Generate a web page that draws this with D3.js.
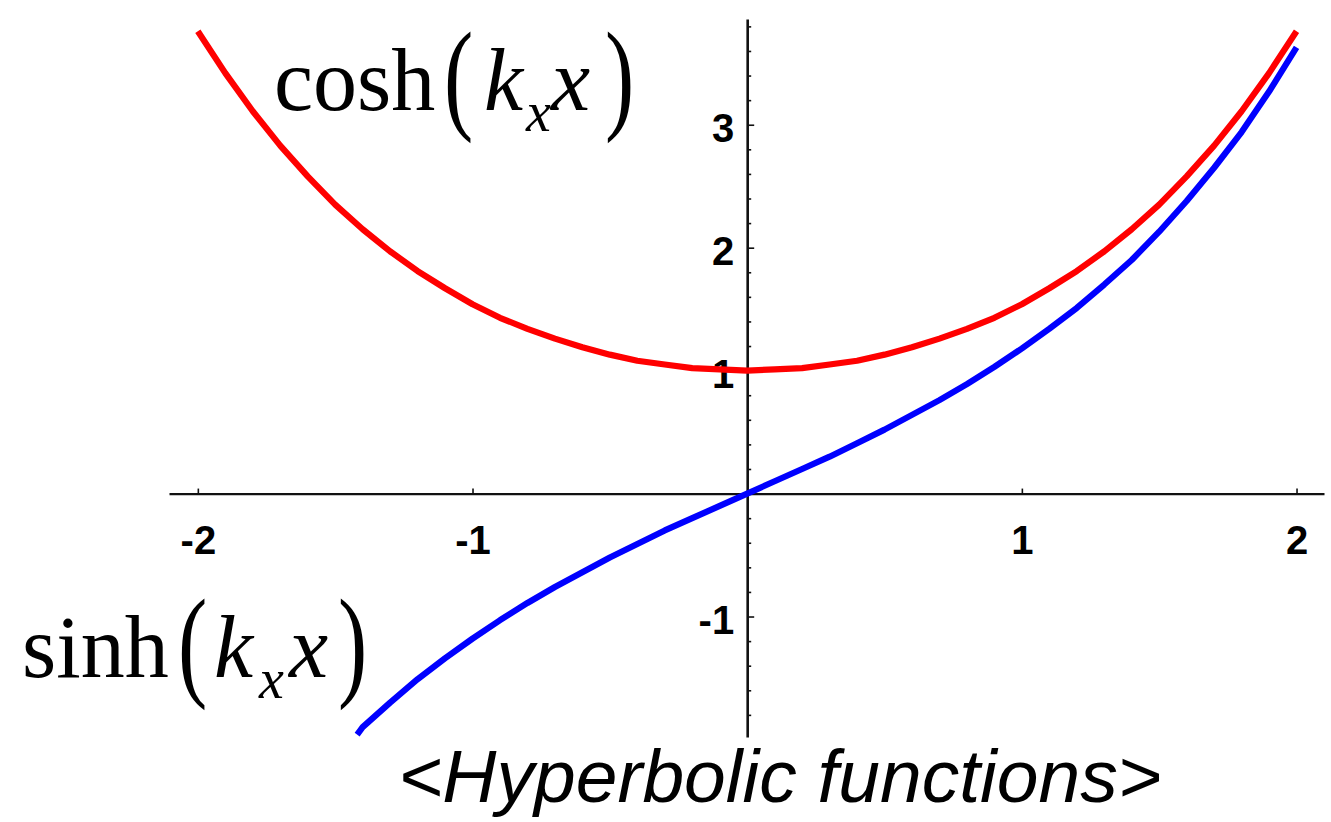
<!DOCTYPE html>
<html>
<head>
<meta charset="utf-8">
<script src="https://cdn.jsdelivr.net/npm/d3@7"></script>
<style>
  html, body { margin: 0; padding: 0; background: #fff; }
  svg { display: block; }
  .tick text { font-family: "Liberation Sans", Arial, sans-serif; font-weight: bold; fill: #000; }
  .math { font-family: "Liberation Serif", "Times New Roman", serif; fill: #000; }
</style>
</head>
<body>
<svg id="chart" width="1331" height="822"></svg>
<script>
// Sample points of the two curves
const coshX = [-2.0,-1.9,-1.8,-1.7,-1.6,-1.5,-1.4,-1.3,-1.2,-1.1,-1.0,-0.9,-0.8,-0.7,-0.6,-0.5,-0.4,-0.3,-0.2,-0.1,
                0.0, 0.1, 0.2, 0.3, 0.4, 0.5, 0.6, 0.7, 0.8, 0.9, 1.0, 1.1, 1.2, 1.3, 1.4, 1.5, 1.6, 1.7, 1.8, 1.9, 2.0];
const coshY = [3.76,3.42,3.11,2.83,2.58,2.35,2.15,1.97,1.81,1.67,1.54,1.43,1.34,1.26,1.19,1.13,1.08,1.05,1.02,1.01,
               1.00,1.01,1.02,1.05,1.08,1.13,1.19,1.26,1.34,1.43,1.54,1.67,1.81,1.97,2.15,2.35,2.58,2.83,3.11,3.42,3.76];

const sinhX = [-1.42,-1.4,-1.3,-1.2,-1.1,-1.0,-0.9,-0.8,-0.7,-0.6,-0.5,-0.4,-0.3,-0.2,-0.1,
                0.0, 0.1, 0.2, 0.3, 0.4, 0.5, 0.6, 0.7, 0.8, 0.9, 1.0, 1.1, 1.2, 1.3, 1.4, 1.5, 1.6, 1.7, 1.8, 1.9, 2.0];
const sinhY = [-1.96,-1.90,-1.70,-1.51,-1.34,-1.18,-1.03,-0.89,-0.76,-0.64,-0.52,-0.41,-0.30,-0.20,-0.10,
                0.00, 0.10, 0.20, 0.30, 0.41, 0.52, 0.64, 0.76, 0.89, 1.03, 1.18, 1.34, 1.51, 1.70, 1.90, 2.13, 2.38, 2.65, 2.94, 3.27, 3.63];

// Tick labels
const xTicks = [-2, -1, 1, 2];
const yTicks = [-1, 1, 2, 3];

const svg = d3.select("#chart");
svg.append("rect").attr("width", 1331).attr("height", 822).attr("fill", "#fff");

const x = d3.scaleLinear().domain([-2.105, 2.1]).range([169, 1324]);
const y = d3.scaleLinear().domain([-1.98, 3.86]).range([737, 19]);

const fmt = d => String(d); // plain hyphen-minus

// Horizontal axis through y = 0
const xAxis = d3.axisBottom(x)
  .tickValues(xTicks)
  .tickFormat(fmt)
  .tickSizeInner(-5)
  .tickSizeOuter(0)
  .tickPadding(32);
const gx = svg.append("g").attr("transform", `translate(0,${y(0)})`).call(xAxis);
gx.select(".domain").attr("stroke", "#111").attr("stroke-width", 2.2);
gx.selectAll(".tick line").attr("stroke", "#111").attr("stroke-width", 1.6);
gx.selectAll(".tick text").attr("font-size", 40);

// Vertical axis through x = 0: minor ticks every 0.2
const minorY = d3.range(-18, 39, 2).map(v => v / 10).filter(v => !Number.isInteger(v));
const yMinor = d3.axisLeft(y).tickValues(minorY).tickFormat("").tickSizeInner(-4).tickSizeOuter(0);
const gym = svg.append("g").attr("transform", `translate(${x(0)},0)`).call(yMinor);
gym.select(".domain").remove();
gym.selectAll(".tick line").attr("stroke", "#111").attr("stroke-width", 1.6);

const yAxis = d3.axisLeft(y)
  .tickValues(yTicks)
  .tickFormat(fmt)
  .tickSizeInner(-7)
  .tickSizeOuter(0)
  .tickPadding(13);
const gy = svg.append("g").attr("transform", `translate(${x(0)},0)`).call(yAxis);
gy.select(".domain").attr("stroke", "#111").attr("stroke-width", 2.6);
gy.selectAll(".tick line").attr("stroke", "#111").attr("stroke-width", 1.6);
gy.selectAll(".tick text").attr("font-size", 40).attr("dy", "0.42em");

// Curves
const line = d3.line().x(d => x(d[0])).y(d => y(d[1]));
const coshPts = coshX.map((v, i) => [v, coshY[i]]);
const sinhPts = sinhX.map((v, i) => [v, sinhY[i]]);

svg.append("path").datum(sinhPts)
  .attr("d", line).attr("fill", "none")
  .attr("stroke", "#0000ff").attr("stroke-width", 6.2).attr("stroke-linejoin", "round");
svg.append("path").datum(coshPts)
  .attr("d", line).attr("fill", "none")
  .attr("stroke", "#ff0000").attr("stroke-width", 6.2).attr("stroke-linejoin", "round");

// Math labels: cosh(k_x x) and sinh(k_x x)
function mathLabel(name, base, pos) {
  const g = svg.append("g").attr("class", "math");
  g.append("text").attr("x", pos.name).attr("y", base).attr("font-size", 88).text(name);
  g.append("text").attr("transform", `translate(${pos.lp},${base + 7}) scale(0.72,1)`)
    .attr("font-size", 122).text("(");
  g.append("text").attr("x", pos.k).attr("y", base).attr("font-size", 88)
    .attr("font-style", "italic").text("k");
  g.append("text").attr("x", pos.sub).attr("y", base + 21).attr("font-size", 56)
    .attr("font-style", "italic").text("x");
  g.append("text").attr("x", pos.x).attr("y", base).attr("font-size", 88)
    .attr("font-style", "italic").text("x");
  g.append("text").attr("transform", `translate(${pos.rp},${base + 7}) scale(0.72,1)`)
    .attr("font-size", 122).text(")");
}
mathLabel("cosh", 110, { name: 274, lp: 444, k: 484, sub: 526, x: 551, rp: 605 });
mathLabel("sinh", 677, { name: 22, lp: 178, k: 214, sub: 259, x: 289, rp: 338 });

// Caption
svg.append("text")
  .attr("x", 780).attr("y", 802)
  .attr("text-anchor", "middle")
  .attr("font-family", "'Liberation Sans', Arial, sans-serif")
  .attr("font-style", "italic")
  .attr("font-size", 75)
  .attr("fill", "#000")
  .text("<Hyperbolic functions>");
</script>
</body>
</html>
